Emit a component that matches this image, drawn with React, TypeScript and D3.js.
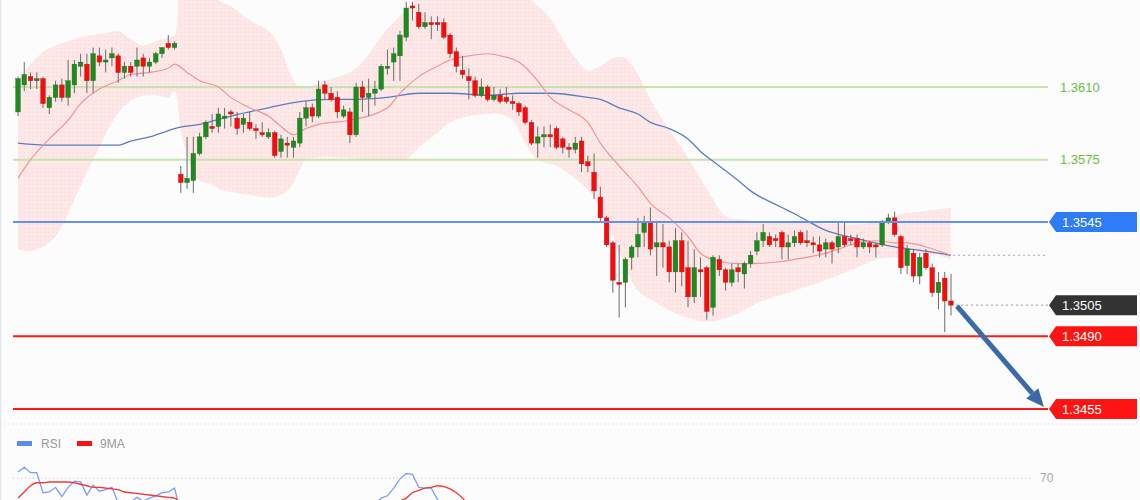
import React from "react";
import * as d3 from "d3";

// Candles (one per bar, oldest first)
const opens = [
  1.3598, 1.3611, 1.3615, 1.3613, 1.3614, 1.36, 1.3605, 1.3611, 1.3605, 1.3611,
  1.362, 1.3621, 1.3613, 1.3625, 1.3622, 1.3624, 1.3625, 1.3617, 1.362, 1.362,
  1.3624, 1.362, 1.3622, 1.3626, 1.3631, 1.3629, 1.3568, 1.3564, 1.3565, 1.3578,
  1.3586, 1.3591, 1.3591, 1.3595, 1.3598, 1.3595, 1.3592, 1.3593, 1.359, 1.3588,
  1.3586, 1.3588, 1.3579, 1.3583, 1.3581, 1.3583, 1.3595, 1.36, 1.3596, 1.3611,
  1.3607, 1.3605, 1.3596, 1.3598, 1.3587, 1.361, 1.3605, 1.3607, 1.3609, 1.3619,
  1.3622, 1.3625, 1.3634, 1.3649, 1.3646, 1.3639, 1.3641, 1.3641, 1.3641, 1.3635,
  1.3627, 1.3618, 1.3615, 1.3613, 1.3606, 1.361, 1.3604, 1.3606, 1.3605, 1.3603,
  1.3602, 1.36, 1.3593, 1.3583, 1.3586, 1.3587, 1.359, 1.3585, 1.3581, 1.358,
  1.3584, 1.3574, 1.3569, 1.3557, 1.3547, 1.3535, 1.3516, 1.3516, 1.3528, 1.3533,
  1.354, 1.3545, 1.3533, 1.3535, 1.3533, 1.3521, 1.3536, 1.3523, 1.3509, 1.3522,
  1.3523, 1.3504, 1.3527, 1.3522, 1.3516, 1.3523, 1.352, 1.3525, 1.3531, 1.3536,
  1.3538, 1.3537, 1.354, 1.3533, 1.3535, 1.354, 1.3536, 1.3535, 1.3534, 1.3532,
  1.3535, 1.3533, 1.3538, 1.3537, 1.3537, 1.3533, 1.3535, 1.3534, 1.3534, 1.3545,
  1.3547, 1.3538, 1.3524, 1.353, 1.3519, 1.353, 1.3523, 1.3511, 1.3518, 1.3507,
];
const highs = [
  1.3615, 1.3622, 1.3617, 1.3617, 1.3615, 1.3606, 1.3613, 1.3614, 1.3623, 1.3623,
  1.3626, 1.3626, 1.3629, 1.3629, 1.3628, 1.3629, 1.3626, 1.3622, 1.3622, 1.3629,
  1.3626, 1.3624, 1.3627, 1.3629, 1.3635, 1.3632, 1.3572, 1.3586, 1.3586, 1.3588,
  1.3594, 1.3597, 1.36, 1.36, 1.3599, 1.3598, 1.3597, 1.3598, 1.3592, 1.3593,
  1.359, 1.3589, 1.3587, 1.3586, 1.3586, 1.3598, 1.3603, 1.3602, 1.3613, 1.3613,
  1.361, 1.3608, 1.3601, 1.36, 1.3612, 1.3613, 1.3614, 1.3613, 1.3621, 1.3628,
  1.3629, 1.3637, 1.3651, 1.3651, 1.365, 1.3646, 1.3644, 1.3644, 1.3643, 1.3636,
  1.3629, 1.3625, 1.3619, 1.3615, 1.3614, 1.3611, 1.361, 1.3609, 1.361, 1.3606,
  1.3603, 1.3601, 1.3594, 1.3591, 1.3591, 1.3592, 1.3591, 1.3586, 1.3583, 1.3586,
  1.3586, 1.3577, 1.3578, 1.3562, 1.3548, 1.3536, 1.3534, 1.3528, 1.3534, 1.3547,
  1.3548, 1.3552, 1.3545, 1.3544, 1.3536, 1.3542, 1.354, 1.3536, 1.3532, 1.3528,
  1.3524, 1.3529, 1.3529, 1.3523, 1.3525, 1.3525, 1.3526, 1.3531, 1.354, 1.3544,
  1.354, 1.3539, 1.3541, 1.3539, 1.3541, 1.3541, 1.3541, 1.3538, 1.3538, 1.3537,
  1.3536, 1.3545, 1.3545, 1.3539, 1.3539, 1.3537, 1.3536, 1.3535, 1.3546, 1.3549,
  1.355, 1.3539, 1.3534, 1.3532, 1.353, 1.3532, 1.3525, 1.3521, 1.3521, 1.352,
];
const lows = [
  1.3596, 1.3608, 1.3609, 1.3609, 1.36, 1.3597, 1.3603, 1.3603, 1.3601, 1.3607,
  1.3615, 1.3607, 1.3607, 1.362, 1.3617, 1.362, 1.3612, 1.3614, 1.3615, 1.3615,
  1.3615, 1.3617, 1.3621, 1.3624, 1.3628, 1.3628, 1.3559, 1.3561, 1.3559, 1.3577,
  1.3585, 1.3588, 1.3588, 1.359, 1.3591, 1.3587, 1.3588, 1.3589, 1.3585, 1.3586,
  1.3585, 1.3576, 1.3576, 1.3576, 1.3576, 1.3581, 1.3591, 1.3593, 1.3595, 1.3604,
  1.3603, 1.3595, 1.3595, 1.3583, 1.3586, 1.3598, 1.3596, 1.3601, 1.3608, 1.3616,
  1.3613, 1.3613, 1.3632, 1.3642, 1.3638, 1.3638, 1.3633, 1.3637, 1.3633, 1.3624,
  1.3617, 1.3614, 1.3604, 1.3605, 1.3605, 1.3603, 1.3603, 1.3602, 1.3602, 1.3599,
  1.3596, 1.3592, 1.3582, 1.3576, 1.3581, 1.3581, 1.358, 1.3578, 1.3576, 1.3578,
  1.3569, 1.3569, 1.3556, 1.3545, 1.3533, 1.3511, 1.3499, 1.3504, 1.3522, 1.3528,
  1.3533, 1.3529, 1.3519, 1.3523, 1.3516, 1.3511, 1.3514, 1.3504, 1.3506, 1.3509,
  1.3498, 1.35, 1.3519, 1.3512, 1.3514, 1.3516, 1.3513, 1.3523, 1.3529, 1.3533,
  1.3533, 1.3533, 1.3527, 1.3527, 1.3533, 1.3534, 1.3533, 1.353, 1.3528, 1.3528,
  1.3525, 1.353, 1.3533, 1.3534, 1.3528, 1.3532, 1.353, 1.3528, 1.3533, 1.3544,
  1.3538, 1.352, 1.352, 1.3516, 1.3515, 1.3522, 1.3509, 1.3503, 1.3492, 1.35,
];
const closes = [
  1.3614, 1.3616, 1.3613, 1.3614, 1.3602, 1.3605, 1.3611, 1.3605, 1.3613, 1.3621,
  1.3622, 1.3613, 1.3626, 1.3622, 1.3623, 1.3626, 1.3617, 1.362, 1.3617, 1.3623,
  1.362, 1.3622, 1.3626, 1.3629, 1.3629, 1.3631, 1.3564, 1.3566, 1.3578, 1.3586,
  1.3593, 1.359, 1.3597, 1.3596, 1.3597, 1.359, 1.3595, 1.359, 1.3589, 1.3587,
  1.3588, 1.3577, 1.3585, 1.3582, 1.3584, 1.3595, 1.36, 1.3596, 1.3609, 1.3607,
  1.3604, 1.3598, 1.3599, 1.3587, 1.361, 1.3605, 1.3607, 1.3609, 1.362, 1.362,
  1.3626, 1.3635, 1.3648, 1.3648, 1.3639, 1.3641, 1.364, 1.364, 1.3634, 1.3626,
  1.362, 1.3616, 1.3613, 1.3606, 1.361, 1.3604, 1.3606, 1.3603, 1.3603, 1.3602,
  1.3598, 1.3593, 1.3583, 1.3586, 1.3587, 1.3586, 1.3581, 1.3581, 1.358, 1.3583,
  1.3573, 1.3572, 1.356, 1.3547, 1.3534, 1.3517, 1.3515, 1.3527, 1.3533, 1.3539,
  1.3545, 1.3532, 1.3535, 1.3533, 1.3521, 1.3536, 1.3521, 1.3509, 1.3523, 1.3521,
  1.3502, 1.3528, 1.3522, 1.3516, 1.3522, 1.3521, 1.3525, 1.3529, 1.3536, 1.354,
  1.3534, 1.3536, 1.3533, 1.3535, 1.3538, 1.3535, 1.3535, 1.3534, 1.3531, 1.3535,
  1.3532, 1.3538, 1.3534, 1.3536, 1.3533, 1.3535, 1.3533, 1.3533, 1.3545, 1.3547,
  1.3539, 1.3523, 1.3532, 1.3519, 1.3528, 1.3523, 1.3511, 1.3516, 1.3507, 1.3505,
];

// Indicator readings as [bar index, value]
const upperBand = [
  [0, 1.3613], [2, 1.3621], [4, 1.3627], [6, 1.363], [8, 1.3632], [10, 1.3634], [12, 1.3635],
  [14, 1.3636], [16, 1.3637], [18, 1.3633], [20, 1.363], [22, 1.3632], [24, 1.3634], [25, 1.3635],
  [26, 1.3672], [28, 1.368], [30, 1.3668], [32, 1.3652], [34, 1.3649], [37, 1.3642], [40, 1.3637],
  [42, 1.3628], [43, 1.362], [44, 1.3613], [45, 1.361], [47, 1.3611], [50, 1.3614], [53, 1.3617],
  [55, 1.3622], [57, 1.363], [59, 1.3638], [61, 1.3644], [63, 1.3651], [65, 1.3657], [70, 1.3668],
  [75, 1.3668], [80, 1.3657], [82, 1.3652], [85, 1.3643], [87, 1.3633], [89, 1.3624], [91, 1.3618],
  [93, 1.362], [95, 1.3624], [97, 1.3624], [99, 1.3616], [101, 1.3604], [103, 1.3594], [105, 1.3585],
  [107, 1.3576], [109, 1.3566], [111, 1.3556], [113, 1.3548], [116, 1.3546], [120, 1.3545],
  [125, 1.3545], [130, 1.3544], [135, 1.3544], [138, 1.3546], [141, 1.3549], [144, 1.355],
  [147, 1.3551], [149, 1.3552],
];
const lowerBand = [
  [0, 1.3532], [2, 1.3531], [5, 1.3535], [7, 1.3543], [9, 1.3556], [11, 1.3569], [13, 1.3581],
  [15, 1.3593], [17, 1.3601], [19, 1.3605], [22, 1.3606], [24, 1.3605], [25, 1.3608], [26, 1.3589],
  [27, 1.3577], [28, 1.3569], [29, 1.3565], [31, 1.3563], [33, 1.356], [35, 1.3559], [37, 1.3558],
  [39, 1.3557], [41, 1.3557], [42, 1.3558], [43, 1.356], [44, 1.3564], [45, 1.357], [46, 1.3575],
  [48, 1.3576], [52, 1.3576], [56, 1.3575], [60, 1.3575], [62, 1.3575], [64, 1.3581], [67, 1.3588],
  [69, 1.3593], [72, 1.3596], [75, 1.3597], [77, 1.3597], [79, 1.3594], [81, 1.3583], [83, 1.3575],
  [86, 1.3572], [89, 1.3566], [92, 1.3557], [95, 1.3538], [97, 1.3523], [99, 1.3512],
  [102, 1.3506], [105, 1.3501], [107, 1.3499], [110, 1.3497], [115, 1.3501], [118, 1.3506],
  [123, 1.3511], [128, 1.3516], [134, 1.3523], [137, 1.3527], [140, 1.3528], [145, 1.353],
  [149, 1.3527],
];
const middleBand = [
  [0, 1.3566], [2, 1.3575], [5, 1.3585], [8, 1.3594], [10, 1.3602], [13, 1.3609], [16, 1.3613],
  [18, 1.3616], [21, 1.3617], [24, 1.3619], [25, 1.3621], [27, 1.3617], [29, 1.3613], [32, 1.361],
  [34, 1.3605], [37, 1.36], [40, 1.3596], [42, 1.3591], [44, 1.3587], [46, 1.359], [48, 1.3592],
  [53, 1.3594], [59, 1.36], [61, 1.3607], [64, 1.3615], [67, 1.362], [69, 1.3623], [72, 1.3625],
  [75, 1.3626], [77, 1.3625], [80, 1.3622], [83, 1.3613], [85, 1.3605], [88, 1.3599], [91, 1.3593],
  [93, 1.3583], [96, 1.3572], [99, 1.3562], [101, 1.3554], [104, 1.3547], [107, 1.3538],
  [109, 1.353], [112, 1.3526], [115, 1.3525], [117, 1.3525], [122, 1.3526], [124, 1.3527],
  [129, 1.353], [132, 1.3533], [134, 1.3535], [137, 1.3536], [140, 1.3535], [142, 1.3535],
  [145, 1.3533], [149, 1.3529],
];
const slowMa = [
  [0, 1.3583], [5, 1.3582], [10, 1.3582], [16, 1.3582], [18, 1.3584], [21, 1.3586], [24, 1.3589],
  [25, 1.359], [29, 1.3592], [34, 1.3596], [40, 1.36], [45, 1.3603], [50, 1.3604], [53, 1.3604],
  [59, 1.3605], [64, 1.3607], [69, 1.3607], [75, 1.3606], [80, 1.3607], [85, 1.3607], [91, 1.3605],
  [93, 1.3604], [96, 1.36], [99, 1.3597], [101, 1.3593], [104, 1.359], [107, 1.3585], [109, 1.3579],
  [112, 1.3572], [115, 1.3565], [117, 1.356], [122, 1.3552], [124, 1.3549], [129, 1.3541],
  [134, 1.3537], [140, 1.3533], [145, 1.3531], [149, 1.3529],
];
const rsi = [
  [0, 78], [1, 84], [2, 77], [3, 77], [4, 51], [5, 52], [6, 58], [7, 46], [8, 58], [9, 66],
  [10, 65], [11, 48], [12, 61], [13, 53], [14, 55], [15, 58], [16, 38], [17, 41], [18, 39],
  [19, 45], [20, 40], [21, 44], [22, 47], [23, 51], [24, 52], [25, 57], [26, 25],
  [57, 36], [58, 44], [59, 47], [60, 57], [61, 69], [62, 76], [63, 75], [64, 58], [65, 57],
  [66, 57], [67, 42], [68, 30],
];
const rsiMa = [
  [0, 44], [1, 52], [2, 60], [3, 64], [4, 64], [5, 65], [6, 65], [7, 65], [8, 65], [9, 64],
  [10, 62], [11, 60], [12, 58], [13, 58], [14, 57], [15, 56], [16, 55], [17, 52], [18, 51],
  [19, 50], [20, 49], [21, 48], [22, 47], [23, 46], [24, 45], [25, 44], [26, 36],
  [60, 33], [61, 40], [62, 44], [63, 51], [64, 54], [65, 57], [66, 58], [67, 60], [68, 59],
  [69, 56], [70, 51], [71, 44], [72, 34],
];

// Horizontal levels
const greenLevels = [1.361, 1.3575];
const blueLevels = [1.3545];
const redLevels = [1.349, 1.3455];
const lastPrice = 1.3505;
const targetPrice = 1.3455;
const rsiLevel = 70;

const W = 1140;
const H = 500;
const PLOT_RIGHT = 1048;
const FONT = "'Liberation Sans', Arial, sans-serif";

const fmt = d3.format(".4f");

// split [index, value] pairs into continuous runs
const segments = (pts: number[][]) => {
  const out: number[][][] = [];
  pts.forEach((p, i) => {
    if (i === 0 || p[0] - pts[i - 1][0] > 1) out.push([]);
    out[out.length - 1].push(p);
  });
  return out;
};

const App = () => {
  const x = d3.scaleLinear().domain([0, closes.length - 1]).range([18, 951]);
  const y = d3.scaleLinear().domain([1.3455, 1.361]).range([409, 87]);
  const yRsi = d3.scaleLinear().domain([0, 100]).range([532, 455]);

  const bandLine = d3
    .line<number[]>()
    .x((d) => x(d[0]))
    .y((d) => y(d[1]))
    .curve(d3.curveCatmullRom.alpha(0.5));
  const upperPath = bandLine(upperBand) as string;
  const lowerPath = (bandLine([...lowerBand].reverse()) as string).replace(/^M/, "L");
  const bandPath = upperPath + lowerPath + "Z";

  const maLine = d3
    .line<number[]>()
    .x((d) => x(d[0]))
    .y((d) => y(d[1]))
    .curve(d3.curveMonotoneX);

  const rsiLine = d3
    .line<number[]>()
    .x((d) => x(d[0]))
    .y((d) => yRsi(d[1]));
  const rsiMaLine = d3
    .line<number[]>()
    .x((d) => x(d[0]))
    .y((d) => yRsi(d[1]))
    .curve(d3.curveMonotoneX);

  const tag = (cy: number) =>
    `M1049,${cy} L1056,${cy - 10} L1137,${cy - 10} L1137,${cy + 10} L1056,${cy + 10} Z`;

  // arrow from last bar down to the target
  const last = closes.length - 1;
  const a0 = [x(last) + 6, y(lastPrice) + 1];
  const a1 = [1044, y(targetPrice) - 2];
  const dx = a1[0] - a0[0];
  const dy = a1[1] - a0[1];
  const len = Math.hypot(dx, dy);
  const ux = dx / len;
  const uy = dy / len;
  const headLen = 18;
  const headW = 8;
  const base = [a1[0] - ux * headLen, a1[1] - uy * headLen];
  const head = [
    a1,
    [base[0] - uy * headW, base[1] + ux * headW],
    [base[0] + uy * headW, base[1] - ux * headW],
  ];

  const maEnd = middleBand[middleBand.length - 1][1];

  return (
    <svg
      width={W}
      height={H}
      style={{ position: "absolute", left: 0, top: 0, display: "block" }}
      fontFamily={FONT}
    >
      <defs>
        <pattern id="dots" width="4" height="4" patternUnits="userSpaceOnUse">
          <rect width="4" height="4" fill="#fde7e7" />
          <rect x="0" y="0" width="1" height="1" fill="#f9d6d6" />
        </pattern>
        <clipPath id="plot">
          <rect x="0" y="0" width={PLOT_RIGHT} height="424" />
        </clipPath>
        <clipPath id="rsiClip">
          <rect x="0" y="452" width={PLOT_RIGHT} height="48" />
        </clipPath>
      </defs>

      <rect width={W} height={H} fill="#fcfcfc" />
      <line x1="0.5" x2="0.5" y1="0" y2={H} stroke="#dfe7f0" strokeWidth="1.5" />

      <g clipPath="url(#plot)">
        <path d={bandPath} fill="url(#dots)" />

        {greenLevels.map((v) => (
          <line key={v} x1="13" x2={PLOT_RIGHT} y1={y(v)} y2={y(v)} stroke="#c6e4ae" strokeWidth="2" />
        ))}

        <path d={maLine(slowMa) as string} fill="none" stroke="#5b7ec0" strokeWidth="1.3" />
        <path d={maLine(middleBand) as string} fill="none" stroke="#f29494" strokeWidth="1.2" />

        {closes.map((c, i) => {
          const o = opens[i];
          const up = c >= o;
          const top = y(Math.max(o, c));
          const h = Math.max(1.2, Math.abs(y(o) - y(c)));
          return (
            <g key={i}>
              <line x1={x(i)} x2={x(i)} y1={y(highs[i])} y2={y(lows[i])} stroke="#6b6b6b" strokeWidth="1" />
              <rect
                x={x(i) - 2.3}
                y={top}
                width="4.6"
                height={h}
                fill={up ? "#1f8a1f" : "#f50d0d"}
                stroke={up ? "#1a6e1a" : "#c40a0a"}
                strokeWidth="0.4"
              />
            </g>
          );
        })}

        {blueLevels.map((v) => (
          <line key={v} x1="13" x2={PLOT_RIGHT} y1={y(v)} y2={y(v)} stroke="#5f92f2" strokeWidth="2" />
        ))}
        {redLevels.map((v) => (
          <line key={v} x1="13" x2={PLOT_RIGHT} y1={y(v)} y2={y(v)} stroke="#ff1a1a" strokeWidth="2" />
        ))}
      </g>

      {/* dotted guides from last bar */}
      <line x1={x(last) + 2} x2={PLOT_RIGHT} y1={y(maEnd)} y2={y(maEnd)} stroke="#9eabc0" strokeWidth="1" strokeDasharray="2,3" />
      <line x1={x(last) + 5} x2={PLOT_RIGHT} y1={y(lastPrice)} y2={y(lastPrice)} stroke="#999" strokeWidth="1" strokeDasharray="2,3" />

      {/* right-hand labels */}
      {greenLevels.map((v) => (
        <text key={v} x="1060" y={y(v) + 4.5} fontSize="13" fill="#6cbf3c">
          {fmt(v)}
        </text>
      ))}
      {blueLevels.map((v) => (
        <g key={v}>
          <path d={tag(y(v))} fill="#2e7cf6" />
          <text x="1062" y={y(v) + 4.5} fontSize="13" fill="#fff">
            {fmt(v)}
          </text>
        </g>
      ))}
      <path d={tag(y(lastPrice))} fill="#333" />
      <text x="1062" y={y(lastPrice) + 4.5} fontSize="13" fill="#fff">
        {fmt(lastPrice)}
      </text>
      {redLevels.map((v) => (
        <g key={v}>
          <path d={tag(y(v))} fill="#ff1414" />
          <text x="1062" y={y(v) + 4.5} fontSize="13" fill="#fff">
            {fmt(v)}
          </text>
        </g>
      ))}

      {/* arrow */}
      <line x1={a0[0]} y1={a0[1]} x2={base[0]} y2={base[1]} stroke="#3a6aa8" strokeWidth="5" />
      <polygon points={head.map((p) => p.join(",")).join(" ")} fill="#3a6aa8" />

      {/* panel separator */}
      <line x1="0" x2={W} y1="424" y2="424" stroke="#d6d6d6" strokeWidth="1" strokeDasharray="1,3" />

      {/* RSI panel */}
      <rect x="17" y="441" width="15" height="5" fill="#5b8def" />
      <text x="41" y="447.5" fontSize="12" fill="#999">RSI</text>
      <rect x="77" y="441" width="15" height="5" fill="#ff1010" />
      <text x="100" y="447.5" fontSize="12" fill="#999">9MA</text>

      <line x1="13" x2="1030" y1={yRsi(rsiLevel)} y2={yRsi(rsiLevel)} stroke="#b8c0cc" strokeWidth="1" strokeDasharray="1,3" />
      <text x="1040" y={yRsi(rsiLevel) + 4} fontSize="12" fill="#aaa">
        {rsiLevel}
      </text>

      <g clipPath="url(#rsiClip)">
        {segments(rsi).map((s, i) => (
          <path key={"r" + i} d={rsiLine(s) as string} fill="none" stroke="#7ca0ee" strokeWidth="1.3" />
        ))}
        {segments(rsiMa).map((s, i) => (
          <path key={"m" + i} d={rsiMaLine(s) as string} fill="none" stroke="#f23a3a" strokeWidth="1.4" />
        ))}
      </g>
    </svg>
  );
};

export default App;
